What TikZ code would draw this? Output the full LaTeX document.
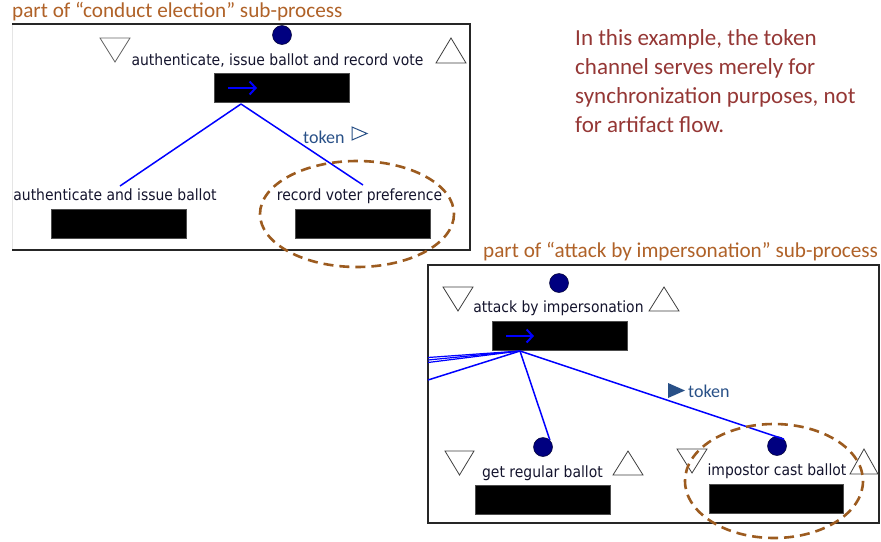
\documentclass[tikz,border=0pt]{standalone}
\usepackage{fontspec}
\setmainfont{Carlito}
\newfontfamily\tah{DejaVu Sans Condensed}
\usetikzlibrary{arrows.meta,shapes.geometric}
\definecolor{titlebrown}{RGB}{176,98,40}
\definecolor{notered}{RGB}{149,55,53}
\definecolor{tokblue}{RGB}{40,80,135}
\definecolor{ellbrown}{RGB}{156,91,31}
\definecolor{navy}{RGB}{0,0,128}
\definecolor{lbl}{RGB}{20,20,45}
\tikzset{
  frame/.style={draw=black!85, line width=1.3pt},
  lbltext/.style={font=\tah\fontsize{15.5}{18}\selectfont, text=lbl, inner sep=0pt, anchor=base},
  titletext/.style={font=\fontsize{21.2}{25}\selectfont, text=titlebrown, inner sep=0pt, anchor=base west},
  tokentext/.style={font=\fontsize{18}{21}\selectfont, text=tokblue, inner sep=0pt, anchor=base west},
  blackbox/.style={fill=black, draw=black!70, line width=0.6pt, minimum width=135pt, minimum height=29pt, inner sep=0pt},
  dot/.style={circle, fill=navy, draw=black!60!navy, line width=0.5pt, minimum size=19pt, inner sep=0pt},
  tri/.style={draw=black!75, line width=0.8pt, fill=white},
  flow/.style={draw=blue, line width=1.5pt},
  boxarrow/.style={draw=blue, line width=2pt, -{Straight Barb[length=6pt,width=13pt]}},
  hilite/.style={draw=ellbrown, line width=2.6pt, dash pattern=on 10pt off 6pt},
}
\begin{document}
\begin{tikzpicture}[x=1pt,y=-1pt]
\useasboundingbox (0,0) rectangle (881,541);
\fill[white] (0,0) rectangle (881,541);

% ---------- top frame ----------
\node[titletext] (title1) at (12,17) {part of “conduct election” sub-process};
\draw[black!10, line width=0.8pt] (12,24) -- (12,250);
\draw[frame] (12,24) -- (470,24) -- (470,250) -- (12,250);

\node[dot] (c1) at (282,35) {};
\draw[tri, draw=black!60] (100,38) -- (130,38) -- (115,62) -- cycle;
\draw[tri] (436,63) -- (466,63) -- (451,38) -- cycle;
\node[lbltext] (l1) at (277.5,65) {authenticate, issue ballot and record vote};
\node[blackbox] (b1) at (281.5,87.5) {};
\draw[boxarrow] (228,88) -- (257,88);

\coordinate (s1) at (241,104);
\coordinate (e1) at (120,186);
\coordinate (e2) at (363,185);
\draw[flow] (s1) -- (e1);
\draw[flow] (s1) -- (e2);

\node[tokentext] (tok1) at (303,143) {token};
\draw[tokblue, line width=1pt] (352,127) -- (367,133.5) -- (352,140) -- cycle;

\node[lbltext] (l2) at (115,200) {authenticate and issue ballot};
\node[blackbox] (b2) at (119,224) {};
\node[lbltext] (l3) at (359.5,200) {record voter preference};
\node[blackbox] (b3) at (363,224) {};

\draw[hilite] (357,214) ellipse [x radius=97, y radius=53];

% ---------- note ----------
\node[font=\fontsize{23}{29}\selectfont, text=notered, inner sep=0pt, anchor=base west, align=left] (note) at (575,132)
  {In this example, the token\\channel serves merely for\\synchronization purposes, not\\for artifact flow.};

% ---------- bottom frame ----------
\node[titletext] (title2) at (483,257.5) {part of “attack by impersonation” sub-process};
\draw[frame] (428,265) rectangle (879,523);

\node[dot] (c2) at (559,283) {};
\draw[tri] (443,287) -- (473,287) -- (458,311) -- cycle;
\draw[tri] (649,311) -- (679,311) -- (664,287) -- cycle;
\node[lbltext] (l4) at (558.5,312) {attack by impersonation};
\node[blackbox] (b4) at (559.5,335.5) {};
\draw[boxarrow] (506,336) -- (534,336);

\node[dot] (c3) at (543,447) {};
\node[dot] (c4) at (777,446) {};

\coordinate (s2) at (520,351);
\coordinate (w1) at (428,357.5);
\coordinate (w2) at (428,360);
\coordinate (w3) at (428,362.5);
\coordinate (w4) at (428,380);
\draw[flow, line width=1.2pt] (s2) -- (w1);
\draw[flow, line width=1.2pt] (s2) -- (w2);
\draw[flow, line width=1.2pt] (s2) -- (w3);
\draw[flow] (s2) -- (w4);
\draw[flow] (s2) -- (c3.north east);
\draw[flow] (s2) -- (c4.north east);

\fill[tokblue] (668,383) -- (685,390.5) -- (668,398) -- cycle;
\node[tokentext] (tok2) at (688,397) {token};

\draw[tri] (445,451) -- (474,451) -- (459.5,475) -- cycle;
\draw[tri] (613,475) -- (643,475) -- (628,451) -- cycle;
\node[lbltext] (l5) at (542.5,477) {get regular ballot};
\node[blackbox] (b5) at (543,500) {};

\draw[tri] (677,449) -- (707,449) -- (692,473) -- cycle;
\draw[tri] (850,474) -- (878,474) -- (864,449) -- cycle;
\node[lbltext] (l6) at (777,475) {impostor cast ballot};
\node[blackbox, minimum width=134pt] (b6) at (776,498.5) {};

\draw[hilite] (774,481) ellipse [x radius=89, y radius=57];
\end{tikzpicture}
\end{document}
